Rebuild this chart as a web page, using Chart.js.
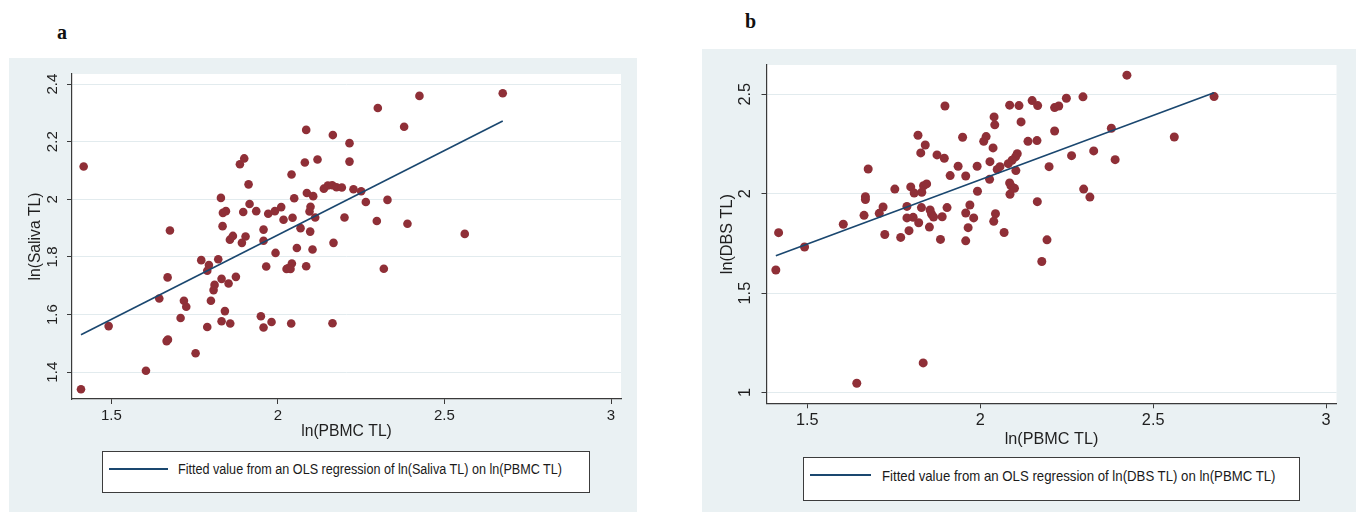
<!DOCTYPE html>
<html>
<head>
<meta charset="utf-8">
<title>PBMC vs saliva / DBS telomere length</title>
<script src="https://cdn.jsdelivr.net/npm/chart.js@4.4.1/dist/chart.umd.min.js"></script>
<style>
    body {
        margin: 0;
        width: 1356px;
        height: 512px;
        overflow: hidden;
        position: relative;
        background: #fff;
        font-family: "Liberation Sans", Arial, sans-serif;
    }
    canvas { position: absolute; }
    .tag {
        position: absolute;
        font-family: "Liberation Serif", serif;
        font-weight: bold;
        font-size: 20px;
        line-height: 20px;
        color: #111;
    }
    .legend {
        position: absolute;
        background: #fff;
        border: 1.3px solid #3c3c3c;
        box-sizing: border-box;
    }
    .legend .swatch {
        position: absolute;
        height: 0;
        border-top: 2px solid #1a476f;
    }
    .legend .text {
        position: absolute;
        white-space: nowrap;
        transform-origin: left center;
        color: #1a1a1a;
    }
</style>
</head>
<body>
<div class="tag" style="left:57px; top:22px;">a</div>
<div class="tag" style="left:745px; top:11px;">b</div>

<canvas id="chart-a" width="628" height="454" style="left:9px; top:58px;"></canvas>
<canvas id="chart-b" width="654" height="463" style="left:702px; top:49px;"></canvas>

<div class="legend" style="left:102px; top:451px; width:488px; height:42px;">
    <div class="swatch" style="left:6px; top:16px; width:59px;"></div>
    <div class="text" id="legend-a" style="left:75px; top:9px; font-size:14px; line-height:16px; transform:scaleX(0.9);"></div>
</div>
<div class="legend" style="left:803px; top:457px; width:497px; height:44px;">
    <div class="swatch" style="left:6px; top:16px; width:61px;"></div>
    <div class="text" id="legend-b" style="left:78px; top:9px; font-size:15px; line-height:17px; transform:scaleX(0.88);"></div>
</div>

<script>
// ln(PBMC TL) on the x axis, shared tick labels
const xTicks = [1.5, 2, 2.5, 3];
const salivaTicks = [1.4, 1.6, 1.8, 2, 2.2, 2.4];
const dbsTicks = [1, 1.5, 2, 2.5];

// panel a: ln(Saliva TL) vs ln(PBMC TL)
const pbmcA = [
    1.417, 1.409, 1.492, 1.604, 1.666, 1.670, 1.644, 1.669, 1.676, 1.753,
    1.708, 1.718, 1.725, 1.770, 1.793, 1.788, 1.788, 1.799, 1.807, 1.810,
    1.821, 1.831, 1.831, 1.841, 1.852, 1.857, 1.874, 1.829, 1.835, 1.844,
    1.834, 1.856, 1.865, 1.892, 1.903, 1.886, 1.899, 1.912, 1.915, 1.896,
    1.935, 1.957, 1.957, 1.971, 1.991, 2.010, 2.017, 1.993, 1.965, 1.949,
    1.957, 1.981,
    2.675, 2.425, 2.300, 2.379, 2.085, 2.165, 2.215, 2.119, 2.081, 2.215,
    2.041, 2.049, 2.087, 2.106, 2.138, 2.150, 2.163, 2.176, 2.192, 2.227,
    2.250, 2.264, 2.329, 2.098, 2.095, 2.044, 2.112, 2.200, 2.297, 2.389,
    2.068, 2.097, 2.561, 2.167, 2.057, 2.104, 2.030, 2.042, 2.026, 2.038,
    2.085, 2.318, 2.040, 2.164
];
const saliva = [
    2.114, 1.341, 1.560, 1.405, 1.508, 1.513, 1.656, 1.729, 1.892, 1.466,
    1.588, 1.648, 1.627, 1.789, 1.772, 1.752, 1.557, 1.648, 1.685, 1.703,
    1.792, 1.724, 1.577, 1.612, 1.708, 1.569, 1.731, 2.005, 1.953, 1.959,
    1.907, 1.860, 1.873, 1.849, 1.871, 2.122, 2.142, 2.052, 1.984, 1.956,
    1.959, 1.895, 1.856, 1.950, 1.959, 1.973, 1.929, 1.814, 1.767, 1.594,
    1.555, 1.574,
    2.368, 2.359, 2.317, 2.252, 2.241, 2.223, 2.195, 2.138, 2.128, 2.131,
    2.086, 2.004, 2.022, 2.011, 2.037, 2.048, 2.049, 2.042, 2.041, 2.035,
    2.028, 1.991, 1.998, 1.974, 1.958, 1.936, 1.937, 1.937, 1.925, 1.915,
    1.900, 1.888, 1.880, 1.849, 1.831, 1.826, 1.761, 1.777, 1.758, 1.758,
    1.768, 1.759, 1.569, 1.570
];
const fitXA = [1.409, 2.675];
const fitSaliva = [1.530, 2.272];

// panel b: ln(DBS TL) vs ln(PBMC TL)
const pbmcB = [
    1.409, 1.417, 1.492, 1.604, 1.643, 1.835, 1.664, 1.668, 1.668, 1.676,
    1.724, 1.708, 1.719, 1.753, 1.770, 1.788, 1.794, 1.788, 1.806, 1.822,
    1.830, 1.853, 1.855, 1.859, 1.865, 1.799, 1.809, 1.831, 1.836, 1.845,
    1.820, 1.841, 1.828, 1.875, 1.896, 1.898, 1.885, 1.890, 1.904, 1.913,
    1.936, 1.949, 1.958, 1.958, 1.970, 1.981, 1.965, 1.958, 1.992, 1.991,
    2.010, 2.017,
    2.424, 2.676, 2.297, 2.249, 2.227, 2.215, 2.150, 2.166, 2.085, 2.112,
    2.040, 2.042, 2.118, 2.215, 2.379, 2.561, 2.138, 2.164, 2.037, 2.028,
    2.027, 2.107, 2.102, 2.092, 2.081, 2.057, 2.049, 2.103, 2.199, 2.264,
    2.328, 2.390, 2.085, 2.089, 2.099, 2.086, 2.165, 2.299, 2.317, 2.044,
    2.039, 2.069, 2.193, 2.178
];
const dbs = [
    1.616, 1.804, 1.732, 1.846, 1.047, 1.149, 1.891, 1.985, 1.971, 2.124,
    1.795, 1.901, 1.933, 2.023, 1.780, 1.936, 1.814, 1.878, 1.881, 1.854,
    1.930, 1.832, 1.918, 1.898, 1.883, 2.034, 2.003, 2.007, 2.040, 2.049,
    2.294, 2.245, 2.205, 2.195, 2.178, 2.441, 1.770, 1.884, 1.930, 2.091,
    2.138, 2.284, 2.089, 1.903, 1.943, 1.878, 1.829, 1.763, 2.012, 2.138,
    2.263, 2.287,
    2.596, 2.488, 2.487, 2.480, 2.441, 2.433, 2.468, 2.443, 2.445, 2.443,
    2.386, 2.346, 2.361, 2.315, 2.329, 2.285, 2.263, 2.267, 2.230, 2.161,
    2.072, 2.201, 2.185, 2.168, 2.151, 2.136, 2.122, 2.116, 2.136, 2.191,
    2.215, 2.171, 2.054, 2.039, 2.027, 1.997, 1.960, 2.023, 1.983, 1.899,
    1.861, 1.805, 1.768, 1.659
];
const fitXB = [1.409, 2.676];
const fitDbs = [1.688, 2.507];

const MAROON = '#8f2f37';
const NAVY = '#1a476f';
const PANEL = '#eaf1f3';
const GRID = '#e2ebee';
const AXIS = '#3a3a3a';
const TEXT = '#1f1f1f';
const FONT = '"Liberation Sans", Arial, sans-serif';

const panelBg = {
    id: 'panelBg',
    beforeDraw(chart) {
        const { ctx, chartArea: a } = chart;
        ctx.save();
        ctx.fillStyle = PANEL;
        ctx.fillRect(0, 0, chart.width, chart.height);
        ctx.fillStyle = '#fff';
        ctx.fillRect(a.left, a.top, a.right - a.left, a.bottom - a.top);
        ctx.restore();
    }
};

function toPoints(xs, ys) {
    return xs.map((x, i) => ({ x: x, y: ys[i] }));
}

function makeChart(id, p) {
    return new Chart(document.getElementById(id), {
        type: 'scatter',
        data: {
            datasets: [
                {
                    label: p.fitLabel,
                    data: toPoints(p.fitX, p.fitY),
                    showLine: true,
                    borderColor: NAVY,
                    borderWidth: 1.6,
                    pointRadius: 0
                },
                {
                    label: p.yTitle,
                    data: toPoints(p.xs, p.ys),
                    backgroundColor: MAROON,
                    borderWidth: 0,
                    pointRadius: p.radius
                }
            ]
        },
        options: {
            responsive: false,
            animation: false,
            events: [],
            layout: { padding: p.padding },
            plugins: { legend: { display: false }, tooltip: { enabled: false } },
            scales: {
                x: {
                    type: 'linear',
                    min: 1.382,
                    max: 3.03,
                    afterBuildTicks: s => { s.ticks = xTicks.map(v => ({ value: v })); },
                    afterFit: s => { s.height = p.xHeight; },
                    grid: { drawOnChartArea: false, tickColor: AXIS, tickLength: 5 },
                    border: { color: AXIS, width: 1.2 },
                    ticks: {
                        color: TEXT, autoSkip: false, maxRotation: 0, padding: p.xPad,
                        font: { family: FONT, size: p.tickSize },
                        callback: v => String(v)
                    },
                    title: {
                        display: true, text: 'ln(PBMC TL)', color: TEXT,
                        font: { family: FONT, size: p.titleSize },
                        padding: { top: 0, bottom: 0 }
                    }
                },
                y: {
                    type: 'linear',
                    min: p.yMin,
                    max: p.yMax,
                    afterBuildTicks: s => { s.ticks = p.yTicks.map(v => ({ value: v })); },
                    afterFit: s => { s.width = p.yWidth; },
                    grid: { color: GRID, lineWidth: 1, tickColor: AXIS, tickLength: 5 },
                    border: { color: AXIS, width: 1.2 },
                    ticks: {
                        color: TEXT, autoSkip: false, minRotation: 90, maxRotation: 90,
                        crossAlign: 'center', padding: p.yPad,
                        font: { family: FONT, size: p.tickSize },
                        callback: v => String(v)
                    },
                    title: {
                        display: true, text: p.yTitle, color: TEXT,
                        font: { family: FONT, size: p.titleSize },
                        padding: { top: p.yTitlePad, bottom: 0 }
                    }
                }
            }
        },
        plugins: [panelBg]
    });
}

const labelA = 'Fitted value from an OLS regression of ln(Saliva TL) on ln(PBMC TL)';
const labelB = 'Fitted value from an OLS regression of ln(DBS TL) on ln(PBMC TL)';

makeChart('chart-a', {
    xs: pbmcA, ys: saliva, fitX: fitXA, fitY: fitSaliva, fitLabel: labelA,
    yTitle: 'ln(Saliva TL)', yTicks: salivaTicks, yMin: 1.307, yMax: 2.435,
    padding: { left: 0, top: 16, right: 16, bottom: 70.6 },
    xHeight: 42.4, yWidth: 63, xPad: 2.7, yPad: 3.9, yTitlePad: 17.6,
    tickSize: 15, titleSize: 15.7, radius: 4.3
});

makeChart('chart-b', {
    xs: pbmcB, ys: dbs, fitX: fitXB, fitY: fitDbs, fitLabel: labelB,
    yTitle: 'ln(DBS TL)', yTicks: dbsTicks, yMin: 0.946, yMax: 2.647,
    padding: { left: 0, top: 16, right: 19.5, bottom: 63 },
    xHeight: 45.7, yWidth: 64.5, xPad: 2.5, yPad: 4.4, yTitlePad: 16.3,
    tickSize: 16.3, titleSize: 16.2, radius: 4.5
});

document.getElementById('legend-a').textContent = labelA;
document.getElementById('legend-b').textContent = labelB;
</script>
</body>
</html>
